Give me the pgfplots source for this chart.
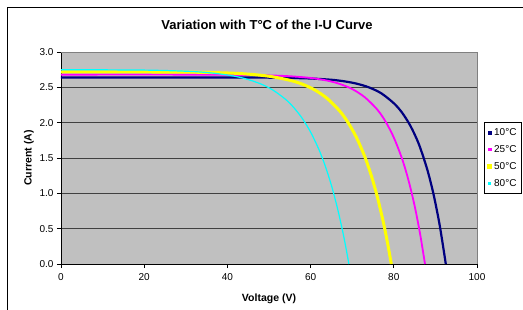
\documentclass[border=0pt]{standalone}
\usepackage{pgfplots}
\pgfplotsset{compat=1.18}
\usepackage{fontspec}
\setmainfont{Liberation Sans}
\definecolor{plotgray}{RGB}{192,192,192}
\definecolor{navyc}{RGB}{0,0,128}
\definecolor{magc}{RGB}{255,0,255}
\definecolor{yelc}{RGB}{255,255,0}
\definecolor{cyac}{RGB}{0,255,255}
\begin{document}
\begin{tikzpicture}
\useasboundingbox (0pt,0pt) rectangle (523pt,309pt);
\draw[black, line width=1pt] (7.3pt,-5pt) -- (7.3pt,301.7pt) -- (540pt,301.7pt);
\node[font=\bfseries\fontsize{13}{15}\selectfont] at (267pt,284pt) {Variation with T°C of the I-U Curve};
\node[font=\bfseries\fontsize{10.5}{12}\selectfont, rotate=90] at (29pt,151pt) {Current (A)};
\node[font=\bfseries\fontsize{10.5}{12}\selectfont] at (269pt,10pt) {Voltage (V)};
\begin{axis}[
  at={(61pt,45pt)}, anchor=south west,
  scale only axis, width=416pt, height=212pt,
  xmin=0, xmax=100, ymin=0, ymax=3,
  xtick={0,20,...,100}, ytick={0,0.5,...,3},
  axis lines=left, axis line style={-, black, line width=0.8pt},
  axis background/.style={fill=plotgray},
  tick align=outside, major tick length=4pt,
  tick style={black, line width=0.8pt},
  ymajorgrids, grid style={black!75, line width=1pt},
  yticklabel style={/pgf/number format/.cd, fixed, fixed zerofill, precision=1},
  /pgf/number format/assume math mode=true,
  ticklabel style={font=\fontsize{10}{12}\selectfont},
  xticklabel style={yshift=-2pt},
  clip=false,
  legend style={at={(1.0168,0.5)}, anchor=west, draw=black, line width=0.8pt, fill=white,
    font=\fontsize{10}{12}\selectfont, row sep=4.5pt, inner xsep=3pt, inner ysep=4pt},
  legend cell align=left,
  legend image code/.code={\fill (0pt,-0.9pt) rectangle (1.8pt,0.9pt);},
]
\addplot[color=navyc, line width=2.2pt, smooth] coordinates {
(0,2.64) (20,2.64) (40,2.64) (50,2.637) (55,2.633) (60,2.625) (65,2.607) (68,2.586) (71,2.553) (74,2.50) (77,2.415) (80,2.275) (82,2.141) (84,1.954) (86,1.70) (88,1.346) (89.5,1.0) (91,0.56) (92.5,0)};
\addlegendentry{10°C}
\addplot[color=magc, line width=1.8pt, smooth] coordinates {
(0,2.68) (30,2.68) (45,2.675) (50,2.669) (55,2.657) (60,2.633) (64,2.595) (67,2.548) (70,2.476) (73,2.361) (76,2.187) (78,2.018) (80,1.79) (82,1.487) (83.5,1.192) (85,0.825) (86.3,0.433) (87.5,0)};
\addlegendentry{25°C}
\addplot[color=yelc, line width=3pt, smooth] coordinates {
(0,2.72) (30,2.715) (40,2.703) (45,2.687) (50,2.657) (55,2.60) (58,2.545) (61,2.463) (64,2.342) (67,2.165) (69,2.002) (71,1.793) (73,1.523) (74.5,1.268) (76,0.96) (77.5,0.588) (78.5,0.296) (79.4,0)};
\addlegendentry{50°C}
\addplot[color=cyac, line width=1.2pt, smooth] coordinates {
(0,2.75) (20,2.744) (30,2.728) (35,2.71) (40,2.675) (44,2.627) (48,2.549) (51,2.459) (54,2.329) (56,2.211) (58,2.06) (60,1.867) (62,1.62) (63.5,1.39) (65,1.114) (66.5,0.778) (67.8,0.437) (68.6,0.196) (69.2,0)};
\addlegendentry{80°C}
\draw[gray, line width=0.8pt] (rel axis cs:0,1) -- (rel axis cs:1,1) -- (rel axis cs:1,0);
\end{axis}
\end{tikzpicture}
\end{document}
